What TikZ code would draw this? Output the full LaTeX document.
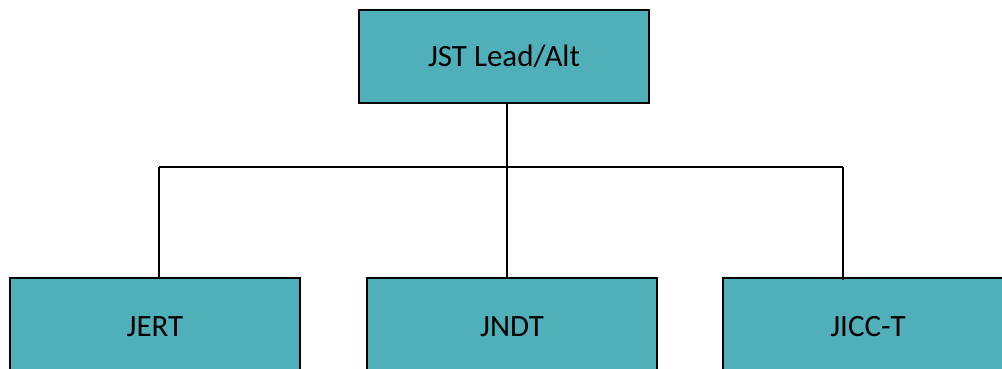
\documentclass[tikz,border=0pt]{standalone}
\usepackage{fontspec}
\setmainfont{Carlito}
\definecolor{teal1}{HTML}{4FB0BA}
\begin{document}
\begin{tikzpicture}[x=1pt,y=-1pt,
  box/.style={draw=black,line width=1.6pt,fill=teal1,minimum width=290pt,minimum height=93pt,inner sep=0pt,font=\fontsize{31}{36}\selectfont},
  conn/.style={draw=black,line width=1.5pt}]
\useasboundingbox (0,0) rectangle (1002,369);
\clip (0,0) rectangle (1002,369);
\node[box] (top) at (504,56.5) {JST Lead/Alt};
\node[box,minimum height=98pt] (jert) at (155,327) {JERT};
\node[box,minimum height=98pt] (jndt) at (512,327) {JNDT};
\node[box,minimum height=98pt] (jicc) at (868,327) {JICC-T};
\coordinate (hub) at (507,167);
\coordinate (left) at (159,167);
\coordinate (right) at (843,167);
\draw[conn] (top.south -| hub) -- (hub) -- (jndt.north -| hub);
\draw[conn] (left) -- (right);
\draw[conn] (left) -- (jert.north -| left);
\draw[conn] (right) -- ([yshift=-3pt]jicc.north -| right);
\end{tikzpicture}
\end{document}
